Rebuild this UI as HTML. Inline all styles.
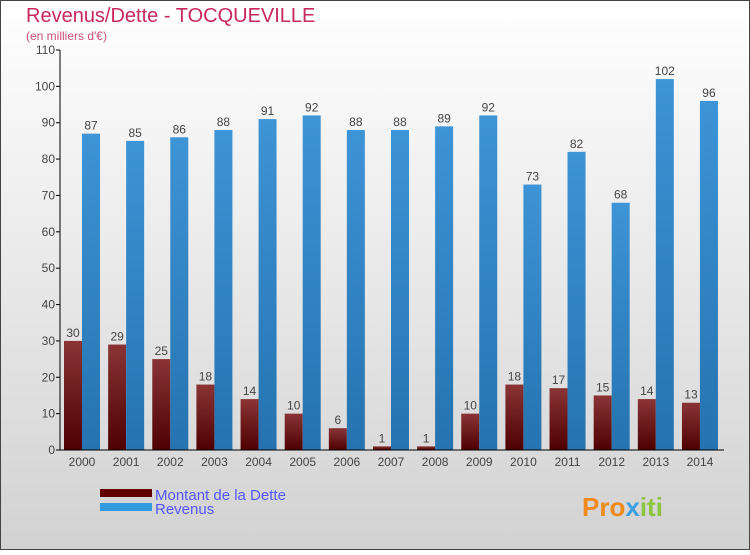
<!DOCTYPE html>
<html><head><meta charset="utf-8"><style>
body{margin:0;width:750px;height:550px;overflow:hidden;font-family:"Liberation Sans",sans-serif}
</style></head><body>
<svg width="750" height="550" xmlns="http://www.w3.org/2000/svg">
<defs>
<linearGradient id="bg" x1="0" y1="0" x2="0" y2="1"><stop offset="0" stop-color="#ffffff"/><stop offset="1" stop-color="#d2d2d2"/></linearGradient>
<linearGradient id="debt" x1="0" y1="0" x2="0" y2="1"><stop offset="0" stop-color="#8a3436"/><stop offset="1" stop-color="#4e0000"/></linearGradient>
<linearGradient id="rev" x1="0" y1="0" x2="0" y2="1"><stop offset="0" stop-color="#3d94d6"/><stop offset="1" stop-color="#2573b0"/></linearGradient>
</defs>
<rect x="0.5" y="0.5" width="749" height="549" fill="url(#bg)" stroke="#444"/>
<text x="26" y="22" font-size="20" fill="#c8285e">Revenus/Dette - TOCQUEVILLE</text>
<text x="26" y="40" font-size="12" fill="#c8507a">(en milliers d'€)</text>
<g id="plot"></g>
<rect x="100" y="489" width="52" height="8" fill="#600000"/>
<rect x="100" y="503" width="52" height="8" fill="#3399e0"/>
<text x="155" y="500" font-size="15" fill="#5555ff">Montant de la Dette</text>
<text x="155" y="514" font-size="15" fill="#5555ff">Revenus</text>
<text x="582" y="516" font-size="26" font-weight="bold" fill="#f08a1c">Pro<tspan fill="#3aa0e0">x</tspan><tspan fill="#8cc63f">iti</tspan></text>
</svg>
<script>
const years=["2000","2001","2002","2003","2004","2005","2006","2007","2008","2009","2010","2011","2012","2013","2014"];
const debt=[30,29,25,18,14,10,6,1,1,10,18,17,15,14,13];
const revenue=[87,85,86,88,91,92,88,88,89,92,73,82,68,102,96];
const yTicks=[0,10,20,30,40,50,60,70,80,90,100,110];
const NS="http://www.w3.org/2000/svg";
const g=document.getElementById('plot');
const y=v=>450-v*400/110;
const xc=i=>82+i*44.14;
function mk(t,a){const e=document.createElementNS(NS,t);for(const k in a)e.setAttribute(k,a[k]);g.appendChild(e);return e;}
yTicks.forEach(v=>{
 const l=mk('line',{x1:56,x2:60,y1:y(v),y2:y(v),stroke:'#000'});
 
 
 const t=mk('text',{x:55,y:y(v)+4,'text-anchor':'end','font-size':12,fill:'#444'});
 t.textContent=v;
 
 
});
years.forEach((yr,i)=>{
 const c=xc(i);
 const d=mk('rect',{x:c-18,y:y(debt[i]),width:18,height:450-y(debt[i]),fill:'url(#debt)'});
 
 
 const r=mk('rect',{x:c,y:y(revenue[i]),width:18,height:450-y(revenue[i]),fill:'url(#rev)'});
 
 
 const dl=mk('text',{x:c-9,y:y(debt[i])-4,'text-anchor':'middle','font-size':12,fill:'#444'});
 dl.textContent=debt[i];
 
 
 const rl=mk('text',{x:c+9,y:y(revenue[i])-4,'text-anchor':'middle','font-size':12,fill:'#444'});
 rl.textContent=revenue[i];
 
 
 const xl=mk('text',{x:c,y:466,'text-anchor':'middle','font-size':12,fill:'#444'});
 xl.textContent=yr;
 
 
});
const ya=mk('line',{x1:60,x2:60,y1:y(110),y2:450,stroke:'#000'});


const xa=mk('line',{x1:60,x2:724,y1:450,y2:450,stroke:'#000'});


</script>
</body></html>
